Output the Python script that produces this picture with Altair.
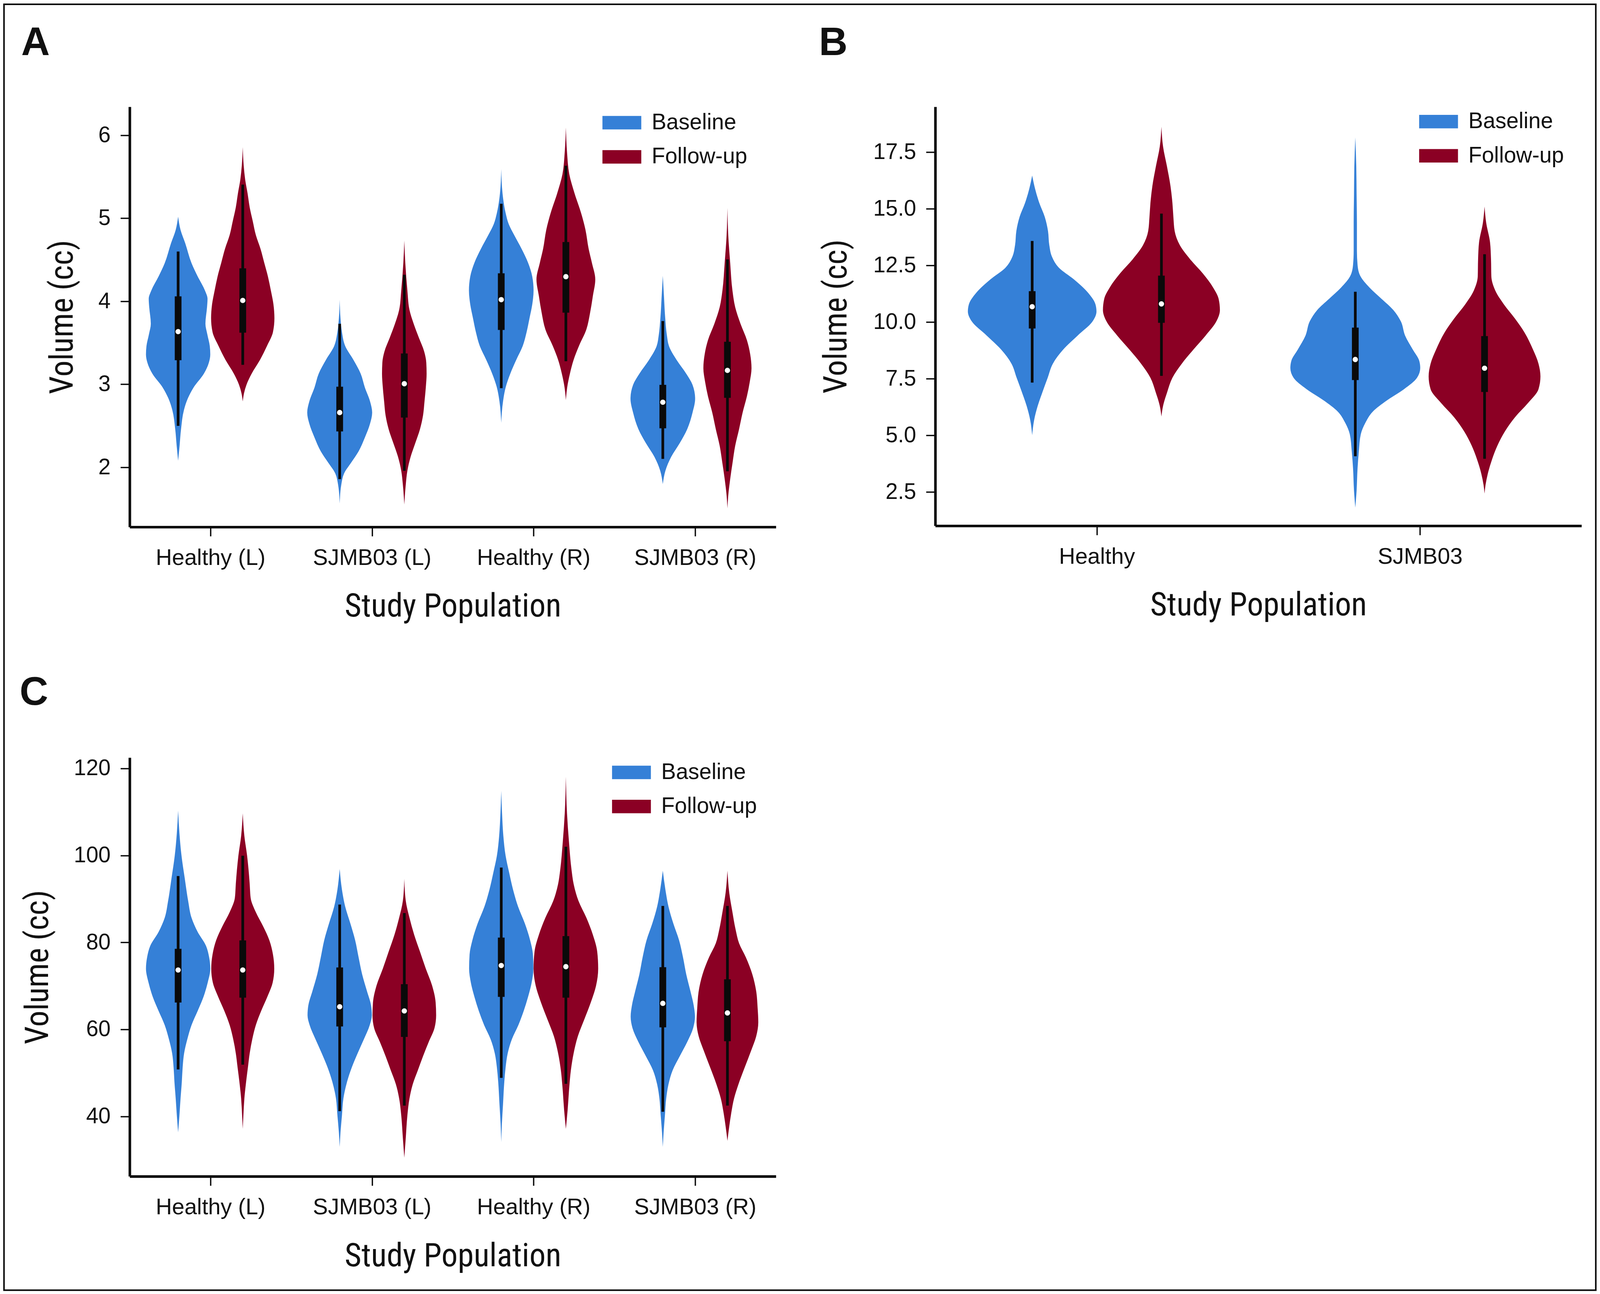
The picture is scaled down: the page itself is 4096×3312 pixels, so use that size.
import json
import altair as alt
import pandas as pd

S = 0.985  # reference pixel -> window pixel

# ---------------- categories, groups, colours ----------------
LR_CATEGORIES = ["Healthy (L)", "SJMB03 (L)", "Healthy (R)", "SJMB03 (R)"]
POOLED_CATEGORIES = ["Healthy", "SJMB03"]
GROUPS = ["Baseline", "Follow-up"]
GROUP_COLORS = ["#3580d7", "#8b0024"]
INK = "#0a0a0a"
TEXT = "#111111"

A_Y_TICKS = [2, 3, 4, 5, 6]
B_Y_TICKS = [2.5, 5.0, 7.5, 10.0, 12.5, 15.0, 17.5]
C_Y_TICKS = [40, 60, 80, 100, 120]
A_Y_RANGE = [1.282, 6.343]
B_Y_RANGE = [1.006, 19.495]
C_Y_RANGE = [26.2, 122.5]

# ---------------- violin outlines: (volume cc, half width as share of a category slot) ----------------
A_HEALTHY_L_BASELINE = [(5.02, 0), (4.86, 0.015), (4.70, 0.044), (4.46, 0.083), (4.30, 0.121), (4.13, 0.166),
                        (4.03, 0.182), (3.93, 0.179), (3.73, 0.169), (3.60, 0.181), (3.46, 0.196), (3.36, 0.199),
                        (3.26, 0.190), (3.13, 0.160), (2.96, 0.095), (2.83, 0.060), (2.69, 0.036), (2.46, 0.018),
                        (2.26, 0.009), (2.08, 0)]
A_HEALTHY_L_FOLLOWUP = [(5.857, 0), (5.633, 0.006), (5.466, 0.015), (5.299, 0.030), (5.132, 0.043), (4.965, 0.062),
                        (4.798, 0.081), (4.631, 0.110), (4.464, 0.133), (4.297, 0.156), (4.130, 0.174), (3.963, 0.190),
                        (3.796, 0.196), (3.629, 0.187), (3.462, 0.150), (3.295, 0.107), (3.128, 0.055), (2.994, 0.023),
                        (2.894, 0.008), (2.794, 0)]
A_SJMB03_L_BASELINE = [(4.020, 0), (3.796, 0.005), (3.629, 0.014), (3.462, 0.034), (3.295, 0.085), (3.128, 0.130),
                       (2.961, 0.156), (2.794, 0.188), (2.660, 0.201), (2.526, 0.188), (2.359, 0.156), (2.192, 0.117),
                       (2.059, 0.072), (1.925, 0.027), (1.792, 0.010), (1.564, 0)]
A_SJMB03_L_FOLLOWUP = [(4.731, 0), (4.464, 0.006), (4.130, 0.019), (3.896, 0.032), (3.729, 0.058), (3.562, 0.090),
                       (3.395, 0.123), (3.261, 0.136), (3.128, 0.138), (2.961, 0.133), (2.794, 0.125), (2.627, 0.116),
                       (2.460, 0.097), (2.292, 0.068), (2.126, 0.039), (1.958, 0.019), (1.791, 0.009), (1.551, 0)]
A_HEALTHY_R_BASELINE = [(5.593, 0), (5.299, 0.008), (5.065, 0.027), (4.931, 0.046), (4.798, 0.080), (4.631, 0.126),
                        (4.464, 0.166), (4.297, 0.192), (4.130, 0.200), (3.963, 0.192), (3.796, 0.175), (3.629, 0.157),
                        (3.462, 0.133), (3.295, 0.093), (3.128, 0.056), (2.961, 0.027), (2.794, 0.011), (2.536, 0)]
A_HEALTHY_R_FOLLOWUP = [(6.094, 0), (5.800, 0.007), (5.533, 0.021), (5.299, 0.054), (5.065, 0.094), (4.865, 0.121),
                        (4.631, 0.141), (4.464, 0.161), (4.263, 0.182), (4.063, 0.167), (3.863, 0.150), (3.662, 0.127),
                        (3.462, 0.081), (3.295, 0.048), (3.128, 0.025), (2.961, 0.008), (2.810, 0)]
A_SJMB03_R_BASELINE = [(4.307, 0), (4.063, 0.007), (3.796, 0.015), (3.595, 0.025), (3.462, 0.038), (3.295, 0.085),
                       (3.128, 0.145), (2.994, 0.184), (2.827, 0.200), (2.660, 0.184), (2.460, 0.151), (2.292, 0.105),
                       (2.126, 0.052), (1.958, 0.016), (1.798, 0)]
A_SJMB03_R_FOLLOWUP = [(5.125, 0), (4.798, 0.005), (4.464, 0.017), (4.130, 0.031), (3.929, 0.048), (3.729, 0.081),
                       (3.529, 0.121), (3.361, 0.141), (3.194, 0.149), (3.027, 0.138), (2.860, 0.121), (2.660, 0.094),
                       (2.460, 0.072), (2.259, 0.048), (2.059, 0.032), (1.858, 0.017), (1.658, 0.005), (1.507, 0)]

B_HEALTHY_BASELINE = [(16.463, 0), (15.878, 0.009), (15.255, 0.022), (14.633, 0.039), (14.010, 0.049),
                      (13.387, 0.053), (12.889, 0.061), (12.391, 0.083), (11.893, 0.128), (11.271, 0.174),
                      (10.773, 0.196), (10.461, 0.199), (10.025, 0.187), (9.403, 0.141), (8.780, 0.096),
                      (8.158, 0.064), (7.535, 0.048), (6.912, 0.032), (6.290, 0.017), (5.667, 0.006), (5.007, 0)]
B_HEALTHY_FOLLOWUP = [(18.617, 0), (17.746, 0.005), (16.874, 0.017), (16.002, 0.028), (15.255, 0.034),
                      (14.633, 0.037), (14.010, 0.041), (13.387, 0.057), (12.765, 0.089), (12.142, 0.128),
                      (11.520, 0.160), (11.022, 0.177), (10.523, 0.181), (10.025, 0.170), (9.403, 0.137),
                      (8.780, 0.099), (8.158, 0.063), (7.535, 0.034), (6.912, 0.018), (6.290, 0.005), (5.829, 0)]
B_SJMB03_BASELINE = [(18.144, 0), (16.874, 0.003), (15.629, 0.004), (14.384, 0.005), (13.138, 0.005),
                     (12.516, 0.007), (12.018, 0.016), (11.520, 0.044), (11.022, 0.081), (10.523, 0.118),
                     (10.025, 0.141), (9.403, 0.154), (8.780, 0.178), (8.282, 0.198), (7.971, 0.201),
                     (7.535, 0.191), (7.037, 0.151), (6.539, 0.098), (6.041, 0.054), (5.543, 0.031),
                     (5.045, 0.017), (4.298, 0.011), (3.550, 0.007), (2.554, 0.004), (1.807, 0)]
B_SJMB03_FOLLOWUP = [(15.093, 0), (14.384, 0.005), (13.512, 0.017), (12.765, 0.020), (12.018, 0.021),
                     (11.395, 0.033), (10.773, 0.060), (10.150, 0.094), (9.527, 0.124), (8.780, 0.150),
                     (8.158, 0.167), (7.597, 0.173), (7.037, 0.167), (6.414, 0.134), (5.792, 0.094),
                     (5.169, 0.063), (4.547, 0.040), (3.924, 0.023), (3.301, 0.010), (2.803, 0.003), (2.430, 0)]

C_HEALTHY_L_BASELINE = [(110.31, 0), (105.12, 0.008), (99.92, 0.021), (94.73, 0.041), (89.54, 0.062), (85.65, 0.083),
                        (82.40, 0.121), (79.16, 0.173), (76.56, 0.192), (73.96, 0.199), (70.72, 0.183), (67.47, 0.157),
                        (64.23, 0.121), (60.98, 0.083), (57.74, 0.057), (54.49, 0.037), (51.25, 0.028), (48.00, 0.023),
                        (44.11, 0.015), (40.21, 0.008), (36.32, 0)]
C_HEALTHY_L_FOLLOWUP = [(109.66, 0), (104.47, 0.010), (99.92, 0.027), (96.68, 0.036), (93.43, 0.043), (90.19, 0.049),
                        (86.94, 0.081), (83.70, 0.126), (80.45, 0.165), (77.21, 0.187), (73.96, 0.195), (70.72, 0.185),
                        (67.47, 0.152), (64.23, 0.114), (60.98, 0.081), (57.74, 0.059), (54.49, 0.043), (51.25, 0.032),
                        (48.00, 0.021), (44.11, 0.010), (40.21, 0.004), (37.10, 0)]
C_SJMB03_L_BASELINE = [(96.87, 0), (92.14, 0.014), (88.24, 0.034), (84.35, 0.066), (80.45, 0.096), (76.56, 0.117),
                       (72.66, 0.139), (68.77, 0.169), (65.53, 0.194), (63.25, 0.199), (60.98, 0.186), (57.74, 0.150),
                       (54.49, 0.111), (51.25, 0.075), (48.00, 0.046), (44.11, 0.023), (40.21, 0.014), (36.32, 0.005),
                       (32.94, 0)]
C_SJMB03_L_FOLLOWUP = [(94.60, 0), (89.54, 0.009), (85.65, 0.032), (81.75, 0.061), (77.86, 0.097), (73.96, 0.133),
                       (70.07, 0.172), (66.17, 0.194), (63.25, 0.197), (60.33, 0.187), (57.09, 0.151), (53.84, 0.116),
                       (50.60, 0.084), (47.35, 0.052), (44.11, 0.032), (40.21, 0.019), (35.02, 0.009), (30.48, 0)]
C_HEALTHY_R_BASELINE = [(114.85, 0), (109.66, 0.005), (104.47, 0.013), (99.92, 0.027), (96.03, 0.049), (92.14, 0.073),
                        (88.24, 0.104), (84.35, 0.146), (80.45, 0.179), (77.21, 0.196), (73.96, 0.199), (70.72, 0.188),
                        (67.47, 0.166), (64.23, 0.139), (60.98, 0.106), (57.74, 0.066), (54.49, 0.040), (51.25, 0.027),
                        (48.00, 0.019), (42.81, 0.011), (38.27, 0.004), (34.05, 0)]
C_HEALTHY_R_FOLLOWUP = [(118.10, 0), (109.66, 0.007), (103.17, 0.019), (96.68, 0.035), (93.43, 0.048), (89.54, 0.078),
                        (85.65, 0.127), (81.75, 0.167), (77.86, 0.194), (73.96, 0.200), (70.07, 0.187), (66.17, 0.154),
                        (62.28, 0.114), (58.39, 0.074), (54.49, 0.048), (50.60, 0.031), (46.71, 0.021), (41.51, 0.011),
                        (37.10, 0)]
C_SJMB03_R_BASELINE = [(96.48, 0), (92.14, 0.016), (88.24, 0.035), (84.35, 0.065), (80.45, 0.101), (76.56, 0.125),
                       (72.66, 0.145), (68.77, 0.171), (65.53, 0.191), (62.93, 0.199), (60.33, 0.188), (57.09, 0.151),
                       (53.84, 0.105), (50.60, 0.061), (47.35, 0.035), (44.11, 0.021), (40.21, 0.013), (36.32, 0.005),
                       (32.94, 0)]
C_SJMB03_R_FOLLOWUP = [(96.48, 0), (91.49, 0.011), (86.94, 0.031), (83.05, 0.050), (79.80, 0.072), (76.56, 0.114),
                       (72.66, 0.154), (68.77, 0.178), (64.87, 0.187), (61.63, 0.191), (58.39, 0.178), (55.14, 0.147),
                       (51.25, 0.107), (47.35, 0.068), (44.11, 0.041), (40.86, 0.024), (37.62, 0.011), (34.37, 0)]

# ---------------- box summaries: (category index, group, whisker low, Q1, median, Q3, whisker high) ----------------
A_BOXES = [(0, "Baseline", 2.50, 3.29, 3.635, 4.06, 4.60),
           (0, "Follow-up", 3.235, 3.622, 4.010, 4.397, 5.406),
           (1, "Baseline", 1.858, 2.433, 2.660, 2.971, 3.729),
           (1, "Follow-up", 1.958, 2.600, 3.007, 3.371, 4.320),
           (2, "Baseline", 2.954, 3.655, 4.020, 4.337, 5.175),
           (2, "Follow-up", 3.278, 3.863, 4.297, 4.714, 5.633),
           (3, "Baseline", 2.102, 2.470, 2.784, 2.994, 3.762),
           (3, "Follow-up", 1.952, 2.837, 3.168, 3.512, 4.504)]
B_BOXES = [(0, "Baseline", 7.323, 9.714, 10.673, 11.358, 13.574),
           (0, "Follow-up", 7.622, 9.963, 10.797, 12.043, 14.782),
           (1, "Baseline", 4.074, 7.435, 8.344, 9.752, 11.333),
           (1, "Follow-up", 3.961, 6.912, 7.958, 9.378, 12.989)]
C_BOXES = [(0, "Baseline", 50.79, 66.17, 73.64, 78.51, 95.25),
           (0, "Follow-up", 51.89, 67.28, 73.64, 80.45, 99.92),
           (1, "Baseline", 41.18, 60.66, 65.20, 74.22, 88.69),
           (1, "Follow-up", 42.48, 58.26, 64.23, 70.39, 86.75),
           (2, "Baseline", 48.84, 67.47, 74.68, 81.10, 97.20),
           (2, "Follow-up", 47.48, 67.28, 74.42, 81.43, 102.00),
           (3, "Baseline", 41.05, 60.46, 65.98, 74.29, 88.37),
           (3, "Follow-up", 42.48, 57.28, 63.77, 71.50, 88.37)]

A_VIOLINS = [(0, "Baseline", A_HEALTHY_L_BASELINE), (0, "Follow-up", A_HEALTHY_L_FOLLOWUP),
             (1, "Baseline", A_SJMB03_L_BASELINE), (1, "Follow-up", A_SJMB03_L_FOLLOWUP),
             (2, "Baseline", A_HEALTHY_R_BASELINE), (2, "Follow-up", A_HEALTHY_R_FOLLOWUP),
             (3, "Baseline", A_SJMB03_R_BASELINE), (3, "Follow-up", A_SJMB03_R_FOLLOWUP)]
B_VIOLINS = [(0, "Baseline", B_HEALTHY_BASELINE), (0, "Follow-up", B_HEALTHY_FOLLOWUP),
             (1, "Baseline", B_SJMB03_BASELINE), (1, "Follow-up", B_SJMB03_FOLLOWUP)]
C_VIOLINS = [(0, "Baseline", C_HEALTHY_L_BASELINE), (0, "Follow-up", C_HEALTHY_L_FOLLOWUP),
             (1, "Baseline", C_SJMB03_L_BASELINE), (1, "Follow-up", C_SJMB03_L_FOLLOWUP),
             (2, "Baseline", C_HEALTHY_R_BASELINE), (2, "Follow-up", C_HEALTHY_R_FOLLOWUP),
             (3, "Baseline", C_SJMB03_R_BASELINE), (3, "Follow-up", C_SJMB03_R_FOLLOWUP)]

# ---------------- layout (reference pixels, scaled by S) ----------------
LABEL_FONT = "Liberation Sans"
TITLE_FONT = "Roboto Condensed, Liberation Sans Narrow, Liberation Sans"
HUE_OFFSET = 0.2
PLOT_W = 1680 * S
A_H, B_H, C_H = 1092 * S, 1089 * S, 1088.5 * S
COL_GAP, ROW_GAP = 414 * S, 599 * S
A_ORIGIN = (337 * S - 8, 277 * S - 8)
D_ORIGIN = (A_ORIGIN[0] + PLOT_W + COL_GAP, A_ORIGIN[1] + A_H + ROW_GAP)
FRAME = (2, 2, 4078, 3294)  # canvas px, stroke 4

LEG_PATH = "M-2.883,-1H2.883V1H-2.883Z"


def x_axis(labels):
    expr = json.dumps(labels) + "[floor(datum.value)]"
    return alt.Axis(values=[i + 0.5 for i in range(len(labels))], labelExpr=expr, title="Study Population",
                    titleY=232.7 * S, titleBaseline="alphabetic", grid=False, labelFlush=False,
                    labelOverlap=False, labelLimit=2000, titleLimit=3000, domainColor=INK, domainWidth=6.6,
                    tickColor=INK, tickWidth=3.4, tickSize=23.6, labelPadding=28, labelFont=LABEL_FONT,
                    labelFontSize=57.5, labelColor=TEXT, titleFont=TITLE_FONT, titleFontSize=83,
                    titleFontWeight="normal", titleColor=TEXT)


def y_axis(ticks, fmt, title_x):
    return alt.Axis(values=ticks, format=fmt, title="Volume (cc)", titleX=title_x, titleAngle=270,
                    titleBaseline="alphabetic", grid=False, labelFlush=False, labelOverlap=False,
                    labelLimit=2000, titleLimit=3000, domainColor=INK, domainWidth=6.6, tickColor=INK,
                    tickWidth=3.4, tickSize=23.6, labelPadding=25.6, labelFont=LABEL_FONT,
                    labelFontSize=56.5, labelColor=TEXT, titleFont=TITLE_FONT, titleFontSize=83,
                    titleFontWeight="normal", titleColor=TEXT)


def legend(lx, ly):
    return alt.Legend(orient="none", legendX=lx, legendY=ly, title=None, symbolType=LEG_PATH,
                      symbolSize=1190, symbolStrokeWidth=0, symbolOpacity=1, labelFont=LABEL_FONT,
                      labelFontSize=56.5, labelColor=TEXT, labelOffset=48, labelLimit=2000,
                      rowPadding=30.5, padding=0)


def panel(cats, violins, boxes, y_ticks, y_fmt, y_range, height, title_x, leg, letter, dx, offset):
    vdf = pd.DataFrame([{"cat": c, "group": g, "v": v, "w": w}
                        for c, g, shape in violins for v, w in shape])
    bdf = pd.DataFrame(boxes, columns=["cat", "group", "wlo", "q1", "med", "q3", "whi"])
    center = f"datum.cat + 0.5 + (datum.group == '{GROUPS[0]}' ? -{HUE_OFFSET} : {HUE_OFFSET})"
    xs = alt.Scale(domain=[0, len(cats)], nice=False, zero=False)
    ys = alt.Scale(domain=y_range, nice=False, zero=False)
    xa = x_axis(cats)
    ya = y_axis(y_ticks, y_fmt, title_x)

    area = alt.Chart(vdf).transform_calculate(center=center).transform_calculate(
        lo="datum.center - datum.w", hi="datum.center + datum.w"
    ).mark_area(orient="horizontal", interpolate="monotone", opacity=1, strokeWidth=0).encode(
        x=alt.X("lo:Q", scale=xs, axis=xa),
        x2="hi:Q",
        y=alt.Y("v:Q", scale=ys, axis=ya),
        color=alt.Color("group:N", scale=alt.Scale(domain=GROUPS, range=GROUP_COLORS), legend=leg),
        detail="cat:N",
    )
    base = alt.Chart(bdf).transform_calculate(center=center)
    whisk = base.mark_rule(color=INK, strokeWidth=7 * S).encode(
        x=alt.X("center:Q", scale=xs, axis=xa), y=alt.Y("wlo:Q", scale=ys, axis=ya), y2="whi:Q")
    box = base.mark_rule(color=INK, strokeWidth=17.5 * S).encode(
        x=alt.X("center:Q", scale=xs, axis=xa), y=alt.Y("q1:Q", scale=ys, axis=ya), y2="q3:Q")
    med = base.mark_point(filled=True, shape="circle", color="white", opacity=1, size=185,
                          strokeWidth=0).encode(
        x=alt.X("center:Q", scale=xs, axis=xa), y=alt.Y("med:Q", scale=ys, axis=ya))
    return alt.layer(area, whisk, box, med).properties(
        width=PLOT_W, height=height,
        title=alt.TitleParams(text=letter, anchor="start", frame="group", dx=dx, offset=offset,
                              baseline="alphabetic", font=LABEL_FONT, fontSize=101.5,
                              fontWeight="bold", color=TEXT))


panel_a = panel(LR_CATEGORIES, A_VIOLINS, A_BOXES, A_Y_TICKS, ".0f", A_Y_RANGE, A_H, -149 * S,
                legend(1232.1, 12.4), "A", -277.7, 30.6)
panel_b = panel(POOLED_CATEGORIES, B_VIOLINS, B_BOXES, B_Y_TICKS, ".1f", B_Y_RANGE, B_H, -231 * S,
                legend(1260.6, 9.7), "B", -297.9, 30.9)
panel_c = panel(LR_CATEGORIES, C_VIOLINS, C_BOXES, C_Y_TICKS, ".0f", C_Y_RANGE, C_H, -213 * S,
                legend(1256.7, 9.7), "C", -281.7, 33.5)

frame = alt.Chart(pd.DataFrame({"k": [0]})).mark_rect(fillOpacity=0, stroke=INK, strokeWidth=4).encode(
    x=alt.value(FRAME[0] - D_ORIGIN[0]), x2=alt.value(FRAME[2] - D_ORIGIN[0]),
    y=alt.value(FRAME[1] - D_ORIGIN[1]), y2=alt.value(FRAME[3] - D_ORIGIN[1]),
).properties(width=PLOT_W, height=C_H)

chart = alt.concat(
    panel_a, panel_b, panel_c, frame, columns=2,
    spacing={"row": ROW_GAP, "column": COL_GAP}, bounds="flush",
).resolve_scale(color="independent").resolve_legend(color="independent").properties(
    padding=0, background="white"
).configure_view(strokeWidth=0)

chart.save("out.html", embed_options={"renderer": "svg", "actions": False})
